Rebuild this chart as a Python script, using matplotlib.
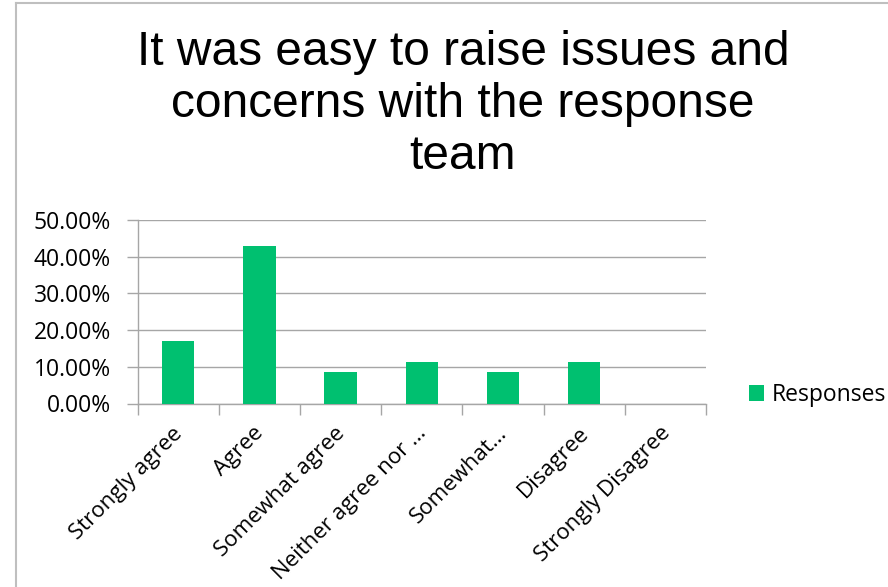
import matplotlib
matplotlib.use("Agg")
import matplotlib.pyplot as plt
from matplotlib.lines import Line2D
from matplotlib.ticker import FuncFormatter, FixedLocator
from matplotlib.transforms import ScaledTranslation

# survey answers, share of 35 respondents
categories = ["Strongly agree", "Agree", "Somewhat agree", "Neither agree nor …",
              "Somewhat…", "Disagree", "Strongly Disagree"]
responses = [17.14, 42.86, 8.57, 11.43, 8.57, 11.43, 0.0]
yticks = [0, 10, 20, 30, 40, 50]

GREEN = "#00C070"
GRID = "#A6A6A6"
W, H = 888, 587
FONT = "Open Sans"

fig = plt.figure(figsize=(W / 100, H / 100), dpi=100)
ax = fig.add_axes([137.5 / W, 1 - 403.5 / H, (706 - 137.5) / W, (403.5 - 220) / H])

x = list(range(len(categories)))
ax.bar(x, responses, width=0.4, color=GREEN, label="Responses", zorder=3)

ax.set_xlim(-0.5, len(categories) - 0.5)
ax.set_ylim(0, 50)
ax.set_yticks(yticks)
ax.yaxis.set_major_formatter(FuncFormatter(lambda v, _: f"{v:.2f}%"))
ax.grid(axis="y", color=GRID, lw=1.0, zorder=0)

# category boundaries carry the tick marks, centres carry the labels
ax.set_xticks(x)
ax.set_xticklabels(categories, rotation=45, ha="right", rotation_mode="anchor",
                   family=FONT, fontsize=16)
ax.xaxis.set_minor_locator(FixedLocator([i - 0.5 for i in range(len(categories) + 1)]))
ax.tick_params(axis="x", which="major", length=0, pad=14)
ax.tick_params(axis="x", which="minor", length=8, color=GRID, width=1.0)
ax.tick_params(axis="y", length=8, color=GRID, width=1.0, pad=11)
shift = ScaledTranslation(-6 / 100, 0, fig.dpi_scale_trans)
for lab in ax.get_xticklabels():
    lab.set_transform(lab.get_transform() + shift)
for lab in ax.get_yticklabels():
    lab.set_family(FONT)
    lab.set_fontsize(16.5)

for side in ("top", "right"):
    ax.spines[side].set_visible(False)
for side in ("left", "bottom"):
    ax.spines[side].set_color(GRID)
    ax.spines[side].set_linewidth(1.0)

ax.legend(loc="center left", bbox_to_anchor=(740 / W, 1 - 395 / H),
          bbox_transform=fig.transFigure, frameon=False,
          prop={"family": FONT, "size": 16.5},
          handlelength=0.65, handleheight=0.65, handletextpad=0.35, borderaxespad=0)

fig.text(463 / W, 1 - 30 / H,
         "It was easy to raise issues and\nconcerns with the response\nteam",
         ha="center", va="top", family="Liberation Sans", fontsize=34.5,
         multialignment="center")

# chart frame (left and top edges)
fig.add_artist(Line2D([15.5 / W, 15.5 / W], [0, 1 - 2.5 / H],
                      transform=fig.transFigure, color="#BFBFBF", lw=1.5))
fig.add_artist(Line2D([15.5 / W, 1], [1 - 2.5 / H, 1 - 2.5 / H],
                      transform=fig.transFigure, color="#BFBFBF", lw=1.5))

fig.savefig("out.png", dpi=100, facecolor="white")
